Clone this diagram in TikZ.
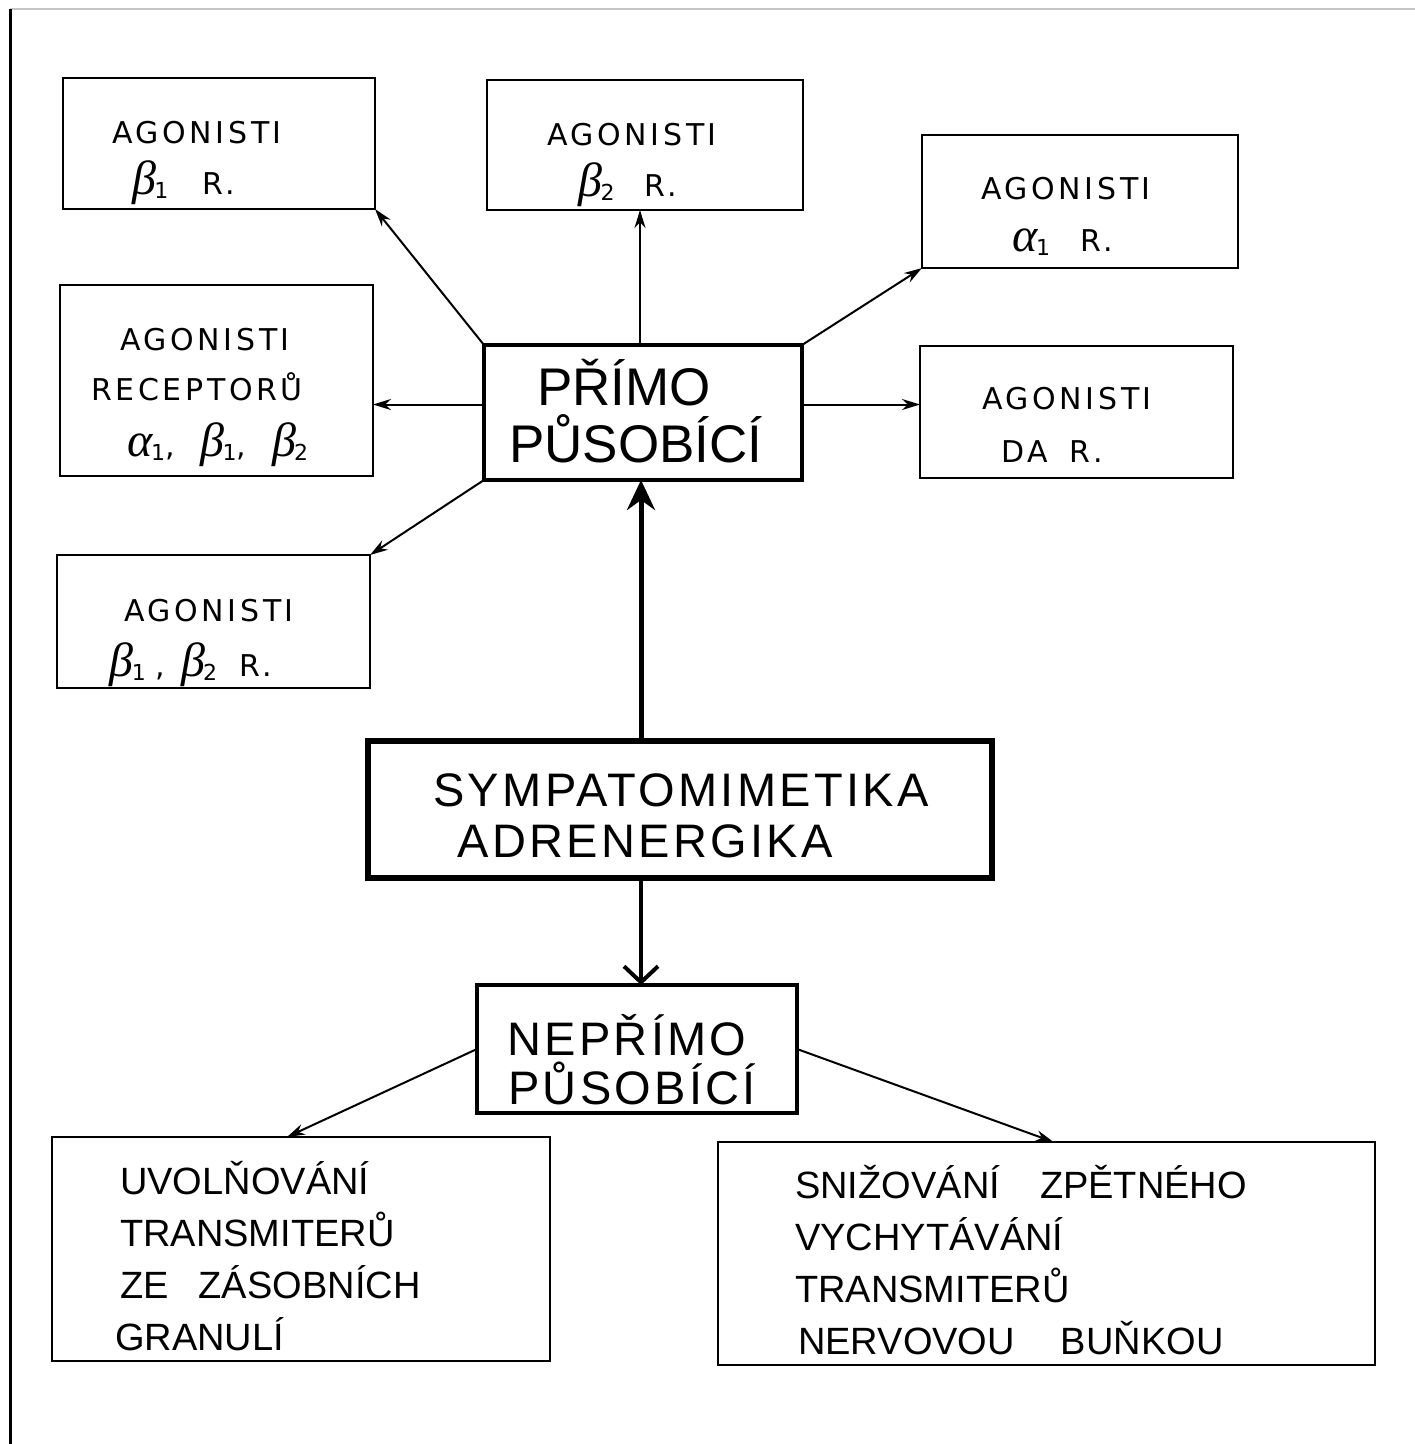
\documentclass[tikz,border=0pt]{standalone}
\usepackage{fontspec}
\setmainfont{Liberation Sans}
\newfontfamily\lsp[LetterSpace=12]{DejaVu Sans}
\newfontfamily\lspb[LetterSpace=7]{Liberation Sans}
\newfontfamily\grk{Liberation Serif}
\usetikzlibrary{arrows.meta}
\newcommand\gb[1]{{\grk\itshape\fontsize{48}{50}\selectfont β}\hspace{-2pt}\raisebox{-4pt}{\fontsize{22}{24}\selectfont #1}}
\newcommand\ga[1]{{\grk\itshape\fontsize{48}{50}\selectfont α}\hspace{-2pt}\raisebox{-4pt}{\fontsize{22}{24}\selectfont #1}}
\tikzset{
  box/.style={draw, line width=2.5pt, inner sep=0pt, outer sep=0pt},
  lab/.style={inner sep=0pt, anchor=base, font=\lsp\fontsize{30}{36}\selectfont},
  big/.style={inner sep=0pt, anchor=base, font=\fontsize{53}{60}\selectfont},
  nbig/.style={inner sep=0pt, anchor=base, font=\lspb\fontsize{47}{52}\selectfont},
  mid/.style={inner sep=0pt, anchor=base, font=\lspb\fontsize{47}{54}\selectfont},
  low/.style={inner sep=0pt, anchor=base west, font=\fontsize{38}{44}\selectfont},
  arr/.style={line width=2pt, -{Stealth[length=18pt,width=11pt]}},
  bigarr/.style={line width=5pt, -{Stealth[length=30pt,width=28pt,inset=10pt]}},
  varr/.style={line width=4pt, -{Straight Barb[length=16pt,width=34pt]}},
}
\begin{document}
\begin{tikzpicture}[x=1pt,y=-1pt]
\useasboundingbox (0,0) rectangle (1415,1444);
\fill[white] (0,0) rectangle (1415,1444);
% page frame
\draw[gray!45, line width=1.2pt] (10,9) -- (1415,9);
\draw[line width=3pt] (10,9) -- (10,1444);

% boxes
\node[box, minimum width=312, minimum height=131] (b1) at (219,143.5) {};
\node[box, minimum width=316, minimum height=130] (b2) at (645,145) {};
\node[box, minimum width=316, minimum height=133] (b3) at (1080,201.5) {};
\node[box, minimum width=313, minimum height=191] (b4) at (216.5,380.5) {};
\node[box, minimum width=313, minimum height=132] (b5) at (1076.5,412) {};
\node[box, minimum width=313, minimum height=133] (b6) at (213.5,621.5) {};
\node[box, line width=4pt, minimum width=318, minimum height=135] (primo) at (643,412.5) {};
\node[box, line width=6pt, minimum width=624, minimum height=137] (symp) at (680,809.5) {};
\node[box, line width=3.5pt, minimum width=320, minimum height=128] (neprimo) at (637,1049) {};
\node[box, minimum width=498, minimum height=224] (b10) at (301,1249) {};
\node[box, minimum width=657, minimum height=223] (b11) at (1046.5,1253.5) {};

% labels (base anchored)
\node[lab] (t1a) at (197,143) {AGONISTI};
\node[lab] (t1b) at (184,194) {\gb{1}\hspace{34pt}R.};
\node[lab] (t2a) at (632,145) {AGONISTI};
\node[lab] (t2b) at (628,196) {\gb{2}\hspace{30pt}R.};
\node[lab] (t3a) at (1066,199) {AGONISTI};
\node[lab] (t3b) at (1063,251) {\ga{1}\hspace{30pt}R.};
\node[lab] (t4a) at (205,350) {AGONISTI};
\node[lab] (t4b) at (197,400) {RECEPTORŮ};
\node[lab] (t4c) at (218,456) {\ga{1},\hspace{26pt}\gb{1},\hspace{26pt}\gb{2}};
\node[lab] (t5a) at (1067,409) {AGONISTI};
\node[lab] (t5b) at (1052,462) {DA\hspace{22pt}R.};
\node[lab] (t6a) at (209,621) {AGONISTI};
\node[lab] (t6b) at (191,676) {\gb{1}\hspace{10pt},\hspace{16pt}\gb{2}\hspace{22pt}R.};

\node[big] (p1) at (624,405) {PŘÍMO};
\node[big] (p2) at (636,462) {PŮSOBÍCÍ};
\node[mid] (s1) at (681,806) {SYMPATOMIMETIKA};
\node[mid] (s2) at (645,857) {ADRENERGIKA};
\node[nbig] (n1) at (627,1055) {NEPŘÍMO};
\node[nbig] (n2) at (632,1104) {PŮSOBÍCÍ};

\node[low] (u1) at (120,1194) {UVOLŇOVÁNÍ};
\node[low] (u2) at (120,1246) {TRANSMITERŮ};
\node[low] (u3) at (120,1298) {ZE\hspace{30pt}ZÁSOBNÍCH};
\node[low] (u4) at (115,1350) {GRANULÍ};
\node[low] (v1) at (795,1198) {SNIŽOVÁNÍ\hspace{40pt}ZPĚTNÉHO};
\node[low] (v2) at (795,1250) {VYCHYTÁVÁNÍ};
\node[low] (v3) at (795,1302) {TRANSMITERŮ};
\node[low] (v4) at (798,1354) {NERVOVOU\hspace{46pt}BUŇKOU};

% connectors
\draw[arr] (primo.north west) -- (b1.south east);
\draw[arr] ([xshift=-3pt]primo.north) -- ([xshift=-3pt]primo.north |- b2.south);
\draw[arr] (primo.north east) -- (b3.south west);
\draw[arr] ([yshift=8pt]primo.west) -- ([yshift=8pt]primo.west -| b4.east);
\draw[arr] ([yshift=8pt]primo.east) -- ([yshift=8pt]primo.east -| b5.west);
\draw[arr] (primo.south west) -- (b6.north east);
\draw[bigarr] ([xshift=-2pt]primo.south |- symp.north) -- ([xshift=-2pt]primo.south);
\draw[varr] ([xshift=4pt]neprimo.north |- symp.south) -- ([xshift=4pt]neprimo.north);
\draw[arr] (neprimo.west) -- ([xshift=-14pt]b10.north);
\draw[arr] (neprimo.east) -- ([xshift=7pt]b11.north);
\end{tikzpicture}
\end{document}
